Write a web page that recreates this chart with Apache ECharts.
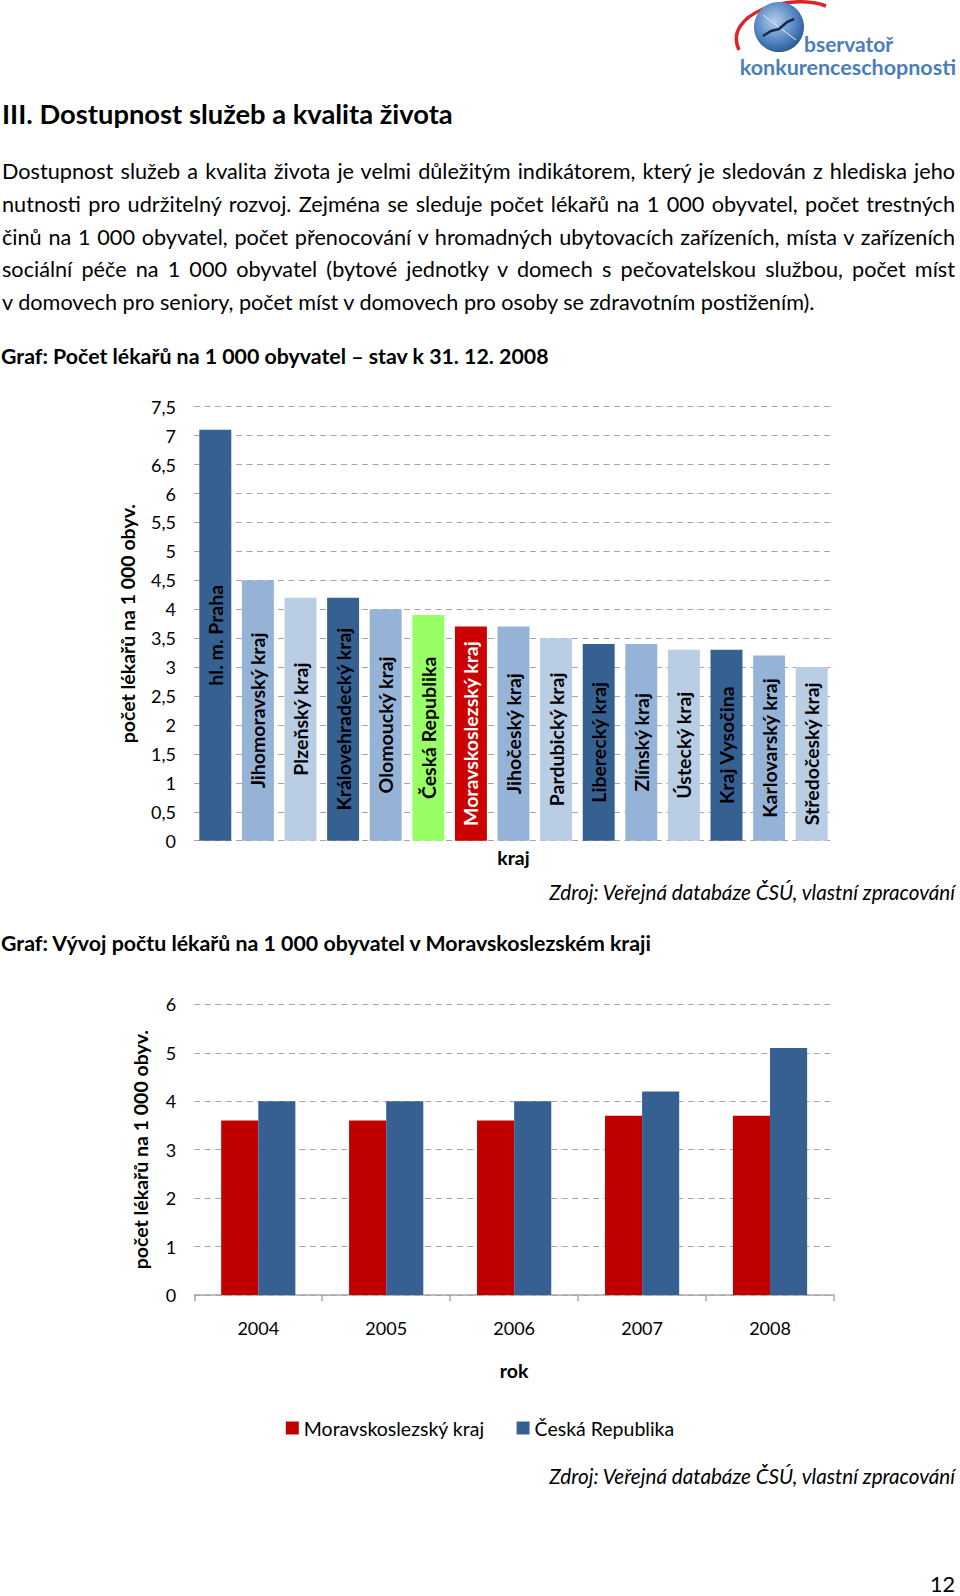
<!DOCTYPE html>
<html>
<head>
<meta charset="utf-8">
<script src="https://cdn.jsdelivr.net/npm/echarts@6/dist/echarts.min.js"></script>
<style>
  body { margin: 0; background: #fff; }
  #page { position: relative; width: 960px; height: 1596px; overflow: hidden; font-family: Lato, "Noto Sans", sans-serif; color: #000; background: #fff; }
  #chart { position: absolute; left: 0; top: 0; width: 960px; height: 1596px; }
  .t { position: absolute; white-space: nowrap; line-height: 1.2; z-index: 2; }
  .b { font-weight: bold; }
  .i { font-style: italic; }
</style>
</head>
<body>
<div id="page">
  <div id="chart"></div>
  <div class="t b" id="title">III. Dostupnost služeb a kvalita života</div>
  <div class="t" id="p1">Dostupnost služeb a kvalita života je velmi důležitým indikátorem, který je sledován z hlediska jeho</div>
  <div class="t" id="p2">nutnosti pro udržitelný rozvoj. Zejména se sleduje počet lékařů na 1 000 obyvatel, počet trestných</div>
  <div class="t" id="p3">činů na 1 000 obyvatel, počet přenocování v hromadných ubytovacích zařízeních, místa v zařízeních</div>
  <div class="t" id="p4">sociální péče na 1 000 obyvatel (bytové jednotky v domech s pečovatelskou službou, počet míst</div>
  <div class="t" id="p5">v domovech pro seniory, počet míst v domovech pro osoby se zdravotním postižením).</div>
  <div class="t b" id="h1">Graf: Počet lékařů na 1 000 obyvatel – stav k 31. 12. 2008</div>
  <div class="t i" id="z1">Zdroj: Veřejná databáze ČSÚ, vlastní zpracování</div>
  <div class="t b" id="h2">Graf: Vývoj počtu lékařů na 1 000 obyvatel v Moravskoslezském kraji</div>
  <div class="t i" id="z2">Zdroj: Veřejná databáze ČSÚ, vlastní zpracování</div>
  <div class="t" id="pg">12</div>
</div>
<script>
// ---------- data ----------
const categories = ['hl. m. Praha', 'Jihomoravský kraj', 'Plzeňský kraj', 'Královehradecký kraj',
  'Olomoucký kraj', 'Česká Republika', 'Moravskoslezský kraj', 'Jihočeský kraj', 'Pardubický kraj',
  'Liberecký kraj', 'Zlínský kraj', 'Ústecký kraj', 'Kraj Vysočina', 'Karlovarský kraj', 'Středočeský kraj'];
const doctors2008 = [7.1, 4.5, 4.2, 4.2, 4.0, 3.9, 3.7, 3.7, 3.5, 3.4, 3.4, 3.3, 3.3, 3.2, 3.0];
const years = ['2004', '2005', '2006', '2007', '2008'];
const mskValues = [3.6, 3.6, 3.6, 3.7, 3.7];
const crValues = [4.0, 4.0, 4.0, 4.2, 5.1];
const seriesNames = ['Moravskoslezský kraj', 'Česká Republika'];

// ---------- styles ----------
const DARK = '#376092', MED = '#95B3D7', LIGHT = '#B9CDE5';
const barColors1 = [DARK, MED, LIGHT, DARK, MED, '#99FF66', '#CC0000', MED, LIGHT, DARK, MED, LIGHT, DARK, MED, LIGHT];
const labelColors1 = categories.map((c, i) => i === 6 ? '#FFFFFF' : '#000000');
const FONT = 'Lato';
const GRIDCOL = '#A6A6A6';

// ---------- HTML text layout ----------
function setFs(el, fs) { el.style.fontSize = fs + 'px'; }
function natW(el) { return el.getBoundingClientRect().width; }
function fitFs(el, target, fs0) { setFs(el, fs0); return fs0 * target / natW(el); }
function placeBase(el, baseline, fs) { el.style.top = (baseline - 0.987 * fs) + 'px'; }

const title = document.getElementById('title');
let fsT = fitFs(title, 451, 24); setFs(title, fsT); title.style.left = '2px'; placeBase(title, 125, fsT);

const pl = ['p1', 'p2', 'p3', 'p4', 'p5'].map(id => document.getElementById(id));
let fsB = fitFs(pl[4], 813, 19);
pl.slice(0, 4).forEach(el => { fsB = Math.min(fsB, fitFs(el, 944, 19)); });
const bases = [179.3, 212.5, 245.2, 277.8, 310.3];
pl.forEach((el, i) => {
  setFs(el, fsB); el.style.left = '2px'; placeBase(el, bases[i], fsB);
  if (i < 4) { el.style.width = '953px'; el.style.textAlign = 'justify'; el.style.textAlignLast = 'justify'; }
});

const h1 = document.getElementById('h1');
let fsH = fitFs(h1, 548, 19); setFs(h1, fsH); h1.style.left = '1px'; placeBase(h1, 365, fsH);
const h2 = document.getElementById('h2');
setFs(h2, fsH); h2.style.left = '1px'; placeBase(h2, 952, fsH);

['z1', 'z2'].forEach((id, k) => {
  const z = document.getElementById(id);
  const fz = fitFs(z, 406, 19); setFs(z, fz);
  z.style.left = (955 - natW(z)) + 'px';
  placeBase(z, k === 0 ? 900 : 1484, fz);
});
const pg = document.getElementById('pg');
setFs(pg, fsB); pg.style.left = (955 - natW(pg)) + 'px'; placeBase(pg, 1592, fsB);

// ---------- chart ----------
const chart = echarts.init(document.getElementById('chart'), null, { renderer: 'svg', width: 960, height: 1596 });
const commaFmt = v => String(v).replace('.', ',');
const axisNameStyle = { fontFamily: FONT, fontWeight: 'bold', fontSize: 19.5, color: '#000' };
const tickLabelStyle = { fontFamily: FONT, fontSize: 18, color: '#000' };
const dashed = { show: true, lineStyle: { color: GRIDCOL, type: [6, 4.5], width: 1 } };

chart.setOption({
  animation: false,
  backgroundColor: 'transparent',
  textStyle: { fontFamily: FONT },
  grid: [
    { left: 194, top: 406.7, width: 639, height: 434 },
    { left: 194.3, top: 1004.3, width: 639.7, height: 290.7 }
  ],
  legend: {
    data: seriesNames, left: 'center', top: 1413, icon: 'rect',
    itemWidth: 13, itemHeight: 13, itemGap: 32,
    textStyle: { fontFamily: FONT, fontSize: 19.5, color: '#000' }
  },
  xAxis: [
    { gridIndex: 0, type: 'category', data: categories,
      axisLine: { show: false }, axisTick: { show: false }, axisLabel: { show: false },
      name: 'kraj', nameLocation: 'middle', nameGap: 7,
      nameTextStyle: Object.assign({ verticalAlign: 'top' }, axisNameStyle) },
    { gridIndex: 1, type: 'category', data: years,
      axisLine: { show: true, lineStyle: { color: GRIDCOL, width: 1.5 } },
      axisTick: { show: true, length: 6, lineStyle: { color: GRIDCOL, width: 1.5 } },
      axisLabel: Object.assign({ margin: 24 }, tickLabelStyle),
      name: 'rok', nameLocation: 'middle', nameGap: 65,
      nameTextStyle: Object.assign({ verticalAlign: 'top' }, axisNameStyle) }
  ],
  yAxis: [
    { gridIndex: 0, type: 'value', min: 0, max: 7.5, interval: 0.5,
      axisLine: { show: false }, axisTick: { show: false },
      axisLabel: Object.assign({ margin: 18, formatter: commaFmt }, tickLabelStyle),
      splitLine: dashed,
      name: 'počet lékařů na 1 000 obyv.', nameLocation: 'middle', nameGap: 57,
      nameTextStyle: axisNameStyle },
    { gridIndex: 1, type: 'value', min: 0, max: 6, interval: 1,
      axisLine: { show: false }, axisTick: { show: false },
      axisLabel: Object.assign({ margin: 18 }, tickLabelStyle),
      splitLine: dashed,
      name: 'počet lékařů na 1 000 obyv.', nameLocation: 'middle', nameGap: 44,
      nameTextStyle: axisNameStyle }
  ],
  series: [
    { type: 'bar', xAxisIndex: 0, yAxisIndex: 0, barCategoryGap: '25%',
      data: doctors2008.map((v, i) => ({ value: v, itemStyle: { color: barColors1[i] }, label: { color: labelColors1[i] } })),
      label: { show: true, position: 'inside', rotate: 90, formatter: '{b}',
        fontFamily: FONT, fontWeight: 'bold', fontSize: 19.5 } },
    { type: 'bar', name: seriesNames[0], xAxisIndex: 1, yAxisIndex: 1, data: mskValues,
      barGap: '0%', barCategoryGap: '42%', itemStyle: { color: '#C00000' } },
    { type: 'bar', name: seriesNames[1], xAxisIndex: 1, yAxisIndex: 1, data: crValues,
      barGap: '0%', barCategoryGap: '42%', itemStyle: { color: '#376092' } }
  ],
  graphic: [
    { type: 'bezierCurve', z: 1,
      shape: { x1: 739, y1: 50, cpx1: 722, cpy1: 14, cpx2: 790, cpy2: -8, x2: 826, y2: 6 },
      style: { stroke: '#D9262B', lineWidth: 3.5, fill: null } },
    { type: 'circle', z: 2, shape: { cx: 779, cy: 27, r: 25 },
      style: { fill: new echarts.graphic.RadialGradient(0.42, 0.38, 0.7, [
        { offset: 0, color: '#B4CDEA' }, { offset: 0.55, color: '#5A8BC6' }, { offset: 1, color: '#1E4F8E' }]) } },
    { type: 'line', z: 3, shape: { x1: 763, y1: 15, x2: 796, y2: 40 }, style: { stroke: '#E3EBF5', lineWidth: 1 } },
    { type: 'polyline', z: 3, shape: { points: [[763, 36], [771, 31], [779, 29], [787, 22], [794, 19]] },
      style: { stroke: '#1B2A44', lineWidth: 2.5, fill: null } },
    { type: 'text', z: 3, x: 804, y: 43,
      style: { text: 'bservatoř', fontFamily: FONT, fontWeight: 'bold', fontSize: 21, fill: '#4A7EBB', verticalAlign: 'middle', align: 'left' } },
    { type: 'text', z: 3, x: 956, y: 67,
      style: { text: 'konkurenceschopnosti', fontFamily: FONT, fontWeight: 'bold', fontSize: 21.5, fill: '#4A7EBB', verticalAlign: 'middle', align: 'right' } }
  ]
});
</script>
</body>
</html>
